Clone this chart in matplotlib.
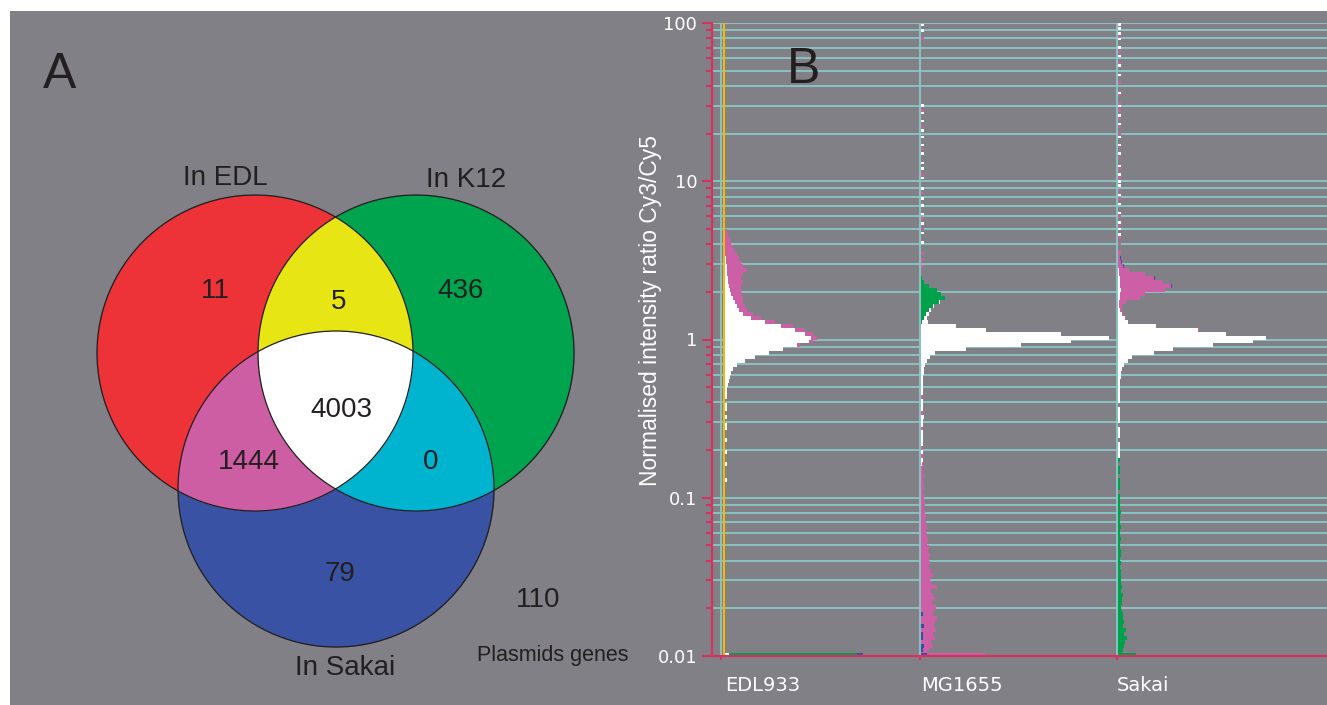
import numpy as np
import matplotlib
matplotlib.use("Agg")
import matplotlib.pyplot as plt
from matplotlib.patches import Circle, Rectangle
from matplotlib.colors import to_rgba
from matplotlib.ticker import FixedLocator, FixedFormatter, NullFormatter

plt.rcParams["font.family"] = ["Liberation Sans", "DejaVu Sans"]

# ---------------- panel A: genes per region of the Venn diagram
set_names = ["In EDL", "In K12", "In Sakai"]
region_names = ["EDL only", "EDL+K12", "K12 only", "all three",
                "EDL+Sakai", "K12+Sakai", "Sakai only"]
region_counts = [11, 5, 436, 4003, 1444, 0, 79]
plasmid_genes = 110

# ---------------- panel B: hybridisation ratio histograms
# bins are 0.025 decades of log10(Cy3/Cy5), listed from the top bin down
bin_step = 0.025
strains = ["EDL933", "MG1655", "Sakai"]

edl_top = 0.70
edl_white = [0, 0, 0, 0, 0, 0, 0, 1, 1, 2, 2, 2, 3, 3, 4, 5, 6, 8, 10, 12,
             14, 18, 26, 40, 56, 70, 80, 86, 84, 72, 58, 44, 30, 20, 12, 8, 6, 5, 4, 3]
edl_pink = [2, 3, 5, 6, 8, 10, 12, 13, 15, 16, 20, 16, 13, 15, 12, 11, 11, 10, 8, 8,
            8, 10, 10, 10, 12, 10, 8, 6, 4, 3, 0, 0, 0, 0, 0, 0, 0, 0, 0, 0]
edl_tail_top = -0.30
edl_tail_white = [2, 2, 2, 0, 2, 2, 0, 2, 0, 2, 2, 0, 0, 2, 0, 0, 2, 0, 0, 2, 0, 0, 0, 2]

mg_top = 0.40
mg_green = [1, 3, 8, 16, 20, 24, 18, 12, 8, 5, 3, 1, 0, 0, 0, 0, 0, 0, 0, 0,
            0, 0, 0, 0, 0, 0, 0, 0]
mg_white = [0, 0, 0, 0, 0, 0, 1, 1, 2, 3, 3, 6, 35, 65, 140, 188, 150, 100, 45, 14,
            9, 6, 4, 3, 3, 2, 2, 2]
mg_tail_top = -0.30
mg_tail_white = [2, 2, 0, 2, 2, 2, 0, 3, 2, 2, 0, 2, 2, 2, 2, 0, 2, 0, 2, 1]
mg_tail_pink = [0, 0, 2, 0, 0, 0, 2, 0, 0, 0, 2, 0, 0, 0, 0, 2, 0, 2, 0, 2]
mg_low_top = -0.80
mg_low_blue = [0, 0, 0, 0, 0, 0, 0, 0, 0, 0, 0, 0, 0, 0, 0, 0, 0, 0, 0, 0,
               0, 0, 0, 0, 0, 0, 0, 0, 0, 0, 0, 0, 0, 0, 0, 0,
               0, 2, 0, 0, 3, 0, 2, 2, 0, 3, 2, 0]
mg_low_pink = [2, 2, 3, 2, 3, 3, 2, 3, 3, 4, 3, 4, 5, 4, 5, 6,
               5, 6, 7, 6, 8, 7, 9, 8, 9, 8, 10, 12, 9, 11, 16, 10,
               12, 14, 11, 15, 13, 10, 16, 14, 10, 15, 10, 12, 10, 9, 6, 6]
mg_dots_white = [97, 90, 30, 27, 24, 21, 19, 17, 15, 13, 12, 10.5, 9, 7.8, 7, 6.2, 5.4, 4.7, 4.1]
mg_dots_pink = [80, 28, 22, 16, 11, 8.4, 5.8, 5.0, 3.5, 3.2, 2.9]

sakai_top = 0.55
sakai_white = [0, 0, 0, 0, 1, 1, 2, 2, 2, 3, 2, 2, 1, 1, 2, 4, 7, 10, 38, 80,
               108, 148, 135, 95, 55, 36, 14, 10, 6, 4, 3, 3, 2, 2]
sakai_pink = [2, 2, 3, 5, 10, 26, 34, 43, 51, 44, 25, 20, 7, 3, 2, 1, 1, 0, 0, 1,
              0, 0, 0, 0, 0, 0, 0, 0, 0, 0, 0, 0, 0, 0]
sakai_blue = [0, 1, 1, 1, 0, 0, 1, 0, 1, 0, 0, 0, 0, 0, 0, 0, 0, 0, 0, 0,
              0, 0, 0, 0, 0, 0, 0, 0, 0, 0, 0, 0, 0, 0]
sakai_tail_top = -0.30
sakai_tail_white = [2, 2, 2, 2, 0, 2, 2, 2, 2, 0, 2, 2, 2, 0, 2, 2, 2, 2]
sakai_low_top = -0.75
sakai_low_green = [2, 0, 2, 2, 0, 2, 2, 2, 0, 2,
                   2, 2, 2, 3, 2, 2, 2, 3, 2, 2,
                   3, 2, 2, 3, 3, 2, 3, 2, 3, 3,
                   3, 3, 4, 3, 5, 4, 4, 3, 4, 5,
                   5, 6, 5, 8, 6, 9, 7, 6, 5, 4]
sakai_dots_white = [98, 92, 86, 80, 70, 62, 54, 47, 36, 30, 26, 23, 19, 17, 15, 12.5,
                    11, 10, 9.4, 8.2, 7.2, 6.3, 5.5, 5.0, 4.6]
sakai_dots_pink = [82, 66, 56, 42, 35, 31, 28, 25, 22, 20, 16.5, 14, 12, 10.6, 8.8,
                   7.8, 6.0, 5.2, 4.4, 4.0, 3.6]

# genes at or below the 0.01 floor, per strain
floor_white = [4, 0, 0]
floor_blue = [6, 6, 0]
floor_green = [128, 0, 18]
floor_pink = [0, 58, 0]

# colours
grey = "#808086"
ink = "#231f20"
red, green, yellow = "#ee3338", "#00a54f", "#e8e614"
blue, pink, cyan = "#3953a4", "#cd5fa4", "#00b4cf"
crimson = "#d9305e"
gridc = "#8cc6c6"
amber = "#f6b800"
hist_pink, hist_green, hist_blue = "#cc5fa5", "#00a14b", "#3a4fa0"

fig = plt.figure(figsize=(13.27, 7.05), dpi=100)

# full-figure canvas in pixel units for panel A and the labels
ax0 = fig.add_axes([0, 0, 1, 1])
ax0.add_patch(Rectangle((10, 11), 1317, 694, color=grey, lw=0, zorder=0))

centres = [(255, 353), (416, 353), (336, 489)]
radius = 158
xs = np.arange(80, 600, 0.5)
ys = np.arange(180, 660, 0.5)
X, Y = np.meshgrid(xs, ys)
code = np.zeros(X.shape, int)
for k, (cx, cy) in enumerate(centres):
    code += ((X - cx) ** 2 + (Y - cy) ** 2 <= radius ** 2) * (1 << k)
palette = {1: red, 2: green, 3: yellow, 4: blue, 5: pink, 6: cyan, 7: "white"}
rgba = np.zeros(code.shape + (4,))
for k, c in palette.items():
    rgba[code == k] = to_rgba(c)
ax0.imshow(rgba, extent=(xs[0] - 0.25, xs[-1] + 0.25, ys[-1] + 0.25, ys[0] - 0.25),
           origin="upper", interpolation="antialiased", zorder=1)
for cx, cy in centres:
    ax0.add_patch(Circle((cx, cy), radius, fill=False, ec=ink, lw=0.9, zorder=2))

count_xy = [(215, 298), (339, 309), (461, 298), (341, 417), (249, 469), (431, 469), (340, 581)]
for (x, y), n in zip(count_xy, region_counts):
    ax0.text(x, y, str(n), ha="center", va="baseline", fontsize=20, color=ink, zorder=3)
name_xy = [(225, 185), (466, 187), (345, 675)]
for (x, y), s in zip(name_xy, set_names):
    ax0.text(x, y, s, ha="center", va="baseline", fontsize=20, color=ink, zorder=3)
ax0.text(538, 607, str(plasmid_genes), ha="center", va="baseline", fontsize=20, color=ink)
ax0.text(553, 661, "Plasmids genes", ha="center", va="baseline", fontsize=15.5, color=ink)
ax0.text(60, 88, "A", ha="center", va="baseline", fontsize=36, color=ink)

ax0.set_xlim(0, 1327)
ax0.set_ylim(705, 0)
ax0.set_aspect("auto")
ax0.axis("off")

# ---------------- panel B
axB = fig.add_axes([712 / 1327, 49 / 705, 615 / 1327, 633 / 705])
axB.set_facecolor("none")
axB.set_yscale("log")
axB.set_xlim(0, 615)
axB.set_ylim(0.01, 100)

minor = [k * 10.0 ** d for d in range(-2, 2) for k in range(2, 10)]
for v in minor + [0.1, 1, 10, 100]:
    axB.axhline(v, color=gridc, lw=1.3, zorder=1)

col_line = [9, 208, 405]
col_base = [13, 209, 406]
for x in col_line:
    axB.axvline(x, color=gridc, lw=1.3, zorder=1)
axB.axvline(12, color=amber, lw=1.5, zorder=2)


def stack(base, top, layers):
    n = len(layers[0][0])
    tops = top - bin_step * np.arange(n)
    lo = 10 ** (tops - bin_step)
    hi = 10 ** tops
    left = np.full(n, float(base))
    for widths, colour in layers:
        w = np.asarray(widths, float)
        axB.barh(lo, w, height=hi - lo, left=left, align="edge",
                 color=colour, lw=0, zorder=3)
        left = left + w


def dots(base, ratios, colour, w=2.5):
    r = np.asarray(ratios, float)
    lo, hi = r / 10 ** 0.008, r * 10 ** 0.008
    axB.barh(lo, w, height=hi - lo, left=base, align="edge", color=colour, lw=0, zorder=3)


stack(col_base[0], edl_top, [(edl_white, "white"), (edl_pink, hist_pink)])
stack(col_base[0], edl_tail_top, [(edl_tail_white, "white")])

stack(col_base[1], mg_top, [(mg_green, hist_green), (mg_white, "white")])
stack(col_base[1], mg_tail_top, [(mg_tail_white, "white"), (mg_tail_pink, hist_pink)])
stack(col_base[1], mg_low_top, [(mg_low_blue, hist_blue), (mg_low_pink, hist_pink)])
dots(col_base[1], mg_dots_white, "white")
dots(col_base[1], mg_dots_pink, hist_pink)

stack(col_base[2], sakai_top, [(sakai_white, "white"), (sakai_pink, hist_pink),
                               (sakai_blue, hist_blue)])
stack(col_base[2], sakai_tail_top, [(sakai_tail_white, "white")])
stack(col_base[2], sakai_low_top, [(sakai_low_green, hist_green)])
dots(col_base[2], sakai_dots_white, "white")
dots(col_base[2], sakai_dots_pink, hist_pink)

# clipped genes sitting on the 0.01 floor
floor_lo, floor_hi = 0.01 * 10 ** 0.003, 10 ** -1.978
left = np.array(col_base, float)
for widths, colour in [(floor_white, "white"), (floor_green, hist_green),
                       (floor_blue, hist_blue), (floor_pink, hist_pink)]:
    w = np.asarray(widths, float)
    axB.barh([floor_lo] * 3, w, height=floor_hi - floor_lo, left=left,
             align="edge", color=colour, lw=0, zorder=3)
    left = left + w

axB.yaxis.set_major_locator(FixedLocator([0.01, 0.1, 1, 10, 100]))
axB.yaxis.set_major_formatter(FixedFormatter(["0.01", "0.1", "1", "10", "100"]))
axB.yaxis.set_minor_locator(FixedLocator(minor))
axB.yaxis.set_minor_formatter(NullFormatter())
axB.tick_params(axis="y", which="major", length=7.2, width=1.5, color=crimson,
                labelcolor="white", labelsize=13, pad=3.5, labelfontfamily="DejaVu Sans")
axB.tick_params(axis="y", which="minor", length=4.3, width=1.5, color=crimson)
axB.set_xticks(col_line)
axB.tick_params(axis="x", length=3, width=1.5, color=crimson, labelbottom=False)

for side in ["top", "right"]:
    axB.spines[side].set_visible(False)
for side in ["left", "bottom"]:
    axB.spines[side].set_color(crimson)
    axB.spines[side].set_linewidth(1.6)
    axB.spines[side].set_zorder(4)

# panel letter sits above the grid lines
axB.text(804, 83, "B", transform=ax0.transData, ha="center", va="baseline",
         fontsize=36, color=ink, zorder=6)

for x, s in zip([725, 921, 1117], strains):
    ax0.text(x, 691, s, ha="left", va="baseline", fontsize=14, color="white",
             family="DejaVu Sans")
ax0.text(651, 310, "Normalised intensity ratio Cy3/Cy5", rotation=90, ha="center",
         va="center", fontsize=16.5, color="white")

fig.savefig("out.png", dpi=100)
